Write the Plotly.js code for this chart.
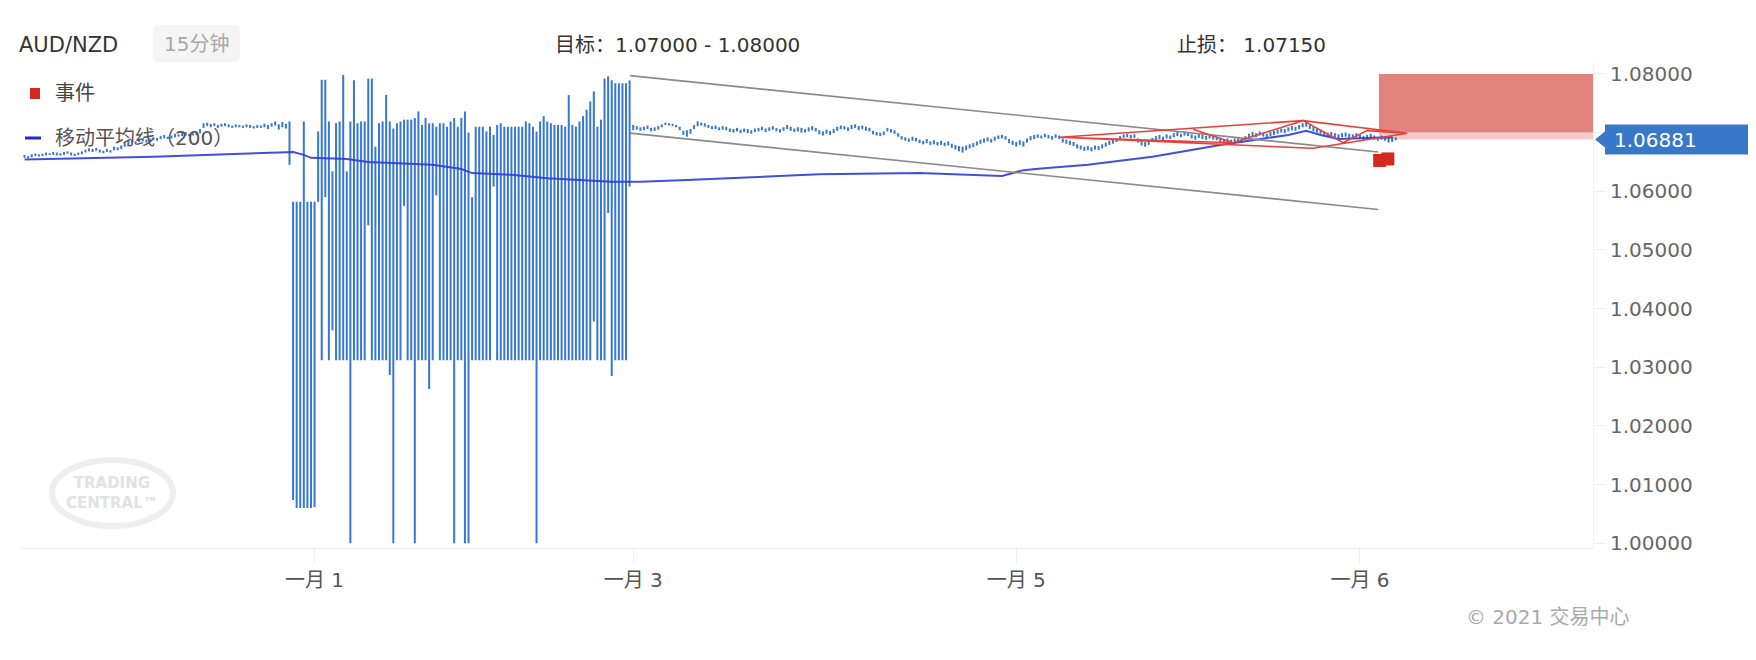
<!DOCTYPE html>
<html><head><meta charset="utf-8">
<script src="https://cdn.plot.ly/plotly-3.0.1.min.js"></script>
<style>html,body{margin:0;padding:0;background:#fff;}#chart{width:1756px;height:660px;}</style>
</head><body><div id="chart"></div>
<script>
// ---- 15-minute bars (high / low), bar index starts at 1 ----
const preHigh = [
1.0662,1.0660,1.0663,1.0664,1.0663,1.0664,1.0666,1.0665,1.0667,1.0666,
1.0665,1.0667,1.0668,1.0666,1.0664,1.0666,1.0668,1.0671,1.0673,1.0672,
1.0674,1.0671,1.0669,1.0672,1.0670,1.0676,1.0675,1.0678,1.0682,1.0686,
1.0688,1.0685,1.0689,1.0691,1.0688,1.0690,1.0692,1.0691,1.0694,1.0696,
1.0693,1.0695,1.0698,1.0697,1.0699,1.0701,1.0698,1.0700,1.0702,1.0706,
1.0716,1.0717,1.0715,1.0716,1.0713,1.0715,1.0716,1.0714,1.0712,1.0714,
1.0713,1.0712,1.0714,1.0713,1.0711,1.0713,1.0712,1.0715,1.0713,1.0716,
1.0719,1.0714,1.0718,1.0715];
const preLow = [
1.0657,1.0656,1.0658,1.0660,1.0659,1.0660,1.0661,1.0662,1.0662,1.0661,
1.0661,1.0662,1.0664,1.0661,1.0660,1.0662,1.0663,1.0666,1.0668,1.0667,
1.0669,1.0666,1.0665,1.0667,1.0666,1.0670,1.0670,1.0672,1.0676,1.0679,
1.0683,1.0680,1.0684,1.0685,1.0683,1.0685,1.0687,1.0686,1.0689,1.0690,
1.0689,1.0690,1.0692,1.0693,1.0694,1.0695,1.0694,1.0695,1.0696,1.0699,
1.0708,1.0711,1.0709,1.0711,1.0708,1.0710,1.0711,1.0709,1.0708,1.0709,
1.0709,1.0708,1.0709,1.0708,1.0707,1.0708,1.0708,1.0709,1.0706,1.0710,
1.0712,1.0705,1.0709,1.0707];
const spikeHigh = [
1.0719,1.0582,1.0582,1.0582,1.0719,1.0582,1.0582,1.0582,1.0702,1.0790,
1.0790,1.0719,1.0634,1.0716,1.0719,1.0798,1.0634,1.0719,1.0789,1.0716,
1.0719,1.0719,1.0792,1.0792,1.0676,1.0716,1.0719,1.0764,1.0719,1.0707,
1.0716,1.0719,1.0722,1.0722,1.0722,1.0725,1.0736,1.0713,1.0725,1.0716,
1.0716,1.0710,1.0716,1.0716,1.0710,1.0719,1.0725,1.0710,1.0725,1.0736,
1.0700,1.0590,1.0710,1.0710,1.0710,1.0702,1.0710,1.0696,1.0713,1.0716,
1.0710,1.0710,1.0710,1.0710,1.0710,1.0710,1.0719,1.0716,1.0710,1.0702,
1.0719,1.0728,1.0719,1.0716,1.0713,1.0713,1.0713,1.0710,1.0764,1.0713,
1.0710,1.0719,1.0728,1.0739,1.0753,1.0770,1.0710,1.0722,1.0792,1.0796,
1.0789,1.0784,1.0784,1.0784,1.0784,1.0789];
const spikeLow = [
1.0645,1.0074,1.0060,1.0060,1.0060,1.0060,1.0060,1.0062,1.0582,1.0312,
1.0590,1.0312,1.0363,1.0312,1.0312,1.0312,1.0312,1.0000,1.0312,1.0312,
1.0312,1.0312,1.0542,1.0312,1.0312,1.0312,1.0312,1.0312,1.0287,1.0000,
1.0312,1.0312,1.0575,1.0312,1.0312,1.0000,1.0312,1.0312,1.0312,1.0263,
1.0312,1.0593,1.0312,1.0312,1.0312,1.0312,1.0000,1.0312,1.0312,1.0000,
1.0000,1.0312,1.0312,1.0312,1.0312,1.0312,1.0312,1.0608,1.0312,1.0312,
1.0312,1.0312,1.0312,1.0312,1.0312,1.0312,1.0312,1.0312,1.0312,1.0000,
1.0312,1.0312,1.0312,1.0312,1.0312,1.0312,1.0312,1.0312,1.0312,1.0312,
1.0312,1.0312,1.0312,1.0312,1.0312,1.0378,1.0312,1.0312,1.0312,1.0563,
1.0285,1.0312,1.0312,1.0312,1.0312,1.0608];
const postHigh = [
1.0713,1.0711,1.0709,1.0710,1.0712,1.0708,1.0709,1.0711,1.0714,1.0717,
1.0716,1.0715,1.0713,1.0710,1.0703,1.0704,1.0706,1.0713,1.0719,1.0717,
1.0716,1.0713,1.0711,1.0712,1.0709,1.0711,1.0710,1.0707,1.0706,1.0708,
1.0705,1.0707,1.0706,1.0704,1.0707,1.0708,1.0710,1.0707,1.0709,1.0711,
1.0708,1.0706,1.0709,1.0713,1.0710,1.0707,1.0709,1.0708,1.0706,1.0709,
1.0711,1.0708,1.0704,1.0702,1.0705,1.0703,1.0706,1.0710,1.0712,1.0711,
1.0709,1.0713,1.0714,1.0711,1.0712,1.0710,1.0708,1.0703,1.0701,1.0700,
1.0702,1.0708,1.0706,1.0704,1.0699,1.0694,1.0692,1.0690,1.0693,1.0691,
1.0688,1.0686,1.0689,1.0685,1.0687,1.0684,1.0686,1.0683,1.0685,1.0681,
1.0679,1.0677,1.0676,1.0678,1.0680,1.0682,1.0685,1.0688,1.0690,1.0692,
1.0689,1.0693,1.0695,1.0696,1.0694,1.0689,1.0686,1.0684,1.0687,1.0685,
1.0690,1.0694,1.0696,1.0697,1.0695,1.0698,1.0696,1.0694,1.0697,1.0695,
1.0690,1.0688,1.0686,1.0684,1.0680,1.0678,1.0676,1.0677,1.0675,1.0678,
1.0677,1.0680,1.0683,1.0686,1.0688,1.0690,1.0694,1.0697,1.0698,1.0696,
1.0697,1.0690,1.0686,1.0684,1.0687,1.0691,1.0694,1.0696,1.0693,1.0697,
1.0695,1.0699,1.0701,1.0698,1.0702,1.0700,1.0697,1.0695,1.0698,1.0696,
1.0694,1.0697,1.0695,1.0693,1.0691,1.0689,1.0690,1.0688,1.0690,1.0692,
1.0689,1.0694,1.0698,1.0701,1.0699,1.0702,1.0700,1.0698,1.0701,1.0703,
1.0705,1.0707,1.0706,1.0709,1.0711,1.0710,1.0713,1.0716,1.0718,1.0714,
1.0710,1.0708,1.0705,1.0702,1.0700,1.0701,1.0699,1.0697,1.0699,1.0700,
1.0698,1.0697,1.0699,1.0696,1.0694,1.0696,1.0698,1.0695,1.0693,1.0695,
1.0694,1.0691,1.0693,1.0692];
const postLow = [
1.0704,1.0705,1.0703,1.0704,1.0706,1.0702,1.0703,1.0705,1.0709,1.0713,
1.0712,1.0711,1.0709,1.0704,1.0696,1.0693,1.0698,1.0706,1.0711,1.0712,
1.0710,1.0708,1.0706,1.0706,1.0704,1.0705,1.0704,1.0701,1.0700,1.0702,
1.0699,1.0701,1.0699,1.0698,1.0701,1.0702,1.0704,1.0701,1.0703,1.0705,
1.0702,1.0700,1.0703,1.0706,1.0703,1.0701,1.0702,1.0700,1.0700,1.0702,
1.0704,1.0702,1.0697,1.0695,1.0698,1.0696,1.0699,1.0703,1.0706,1.0705,
1.0703,1.0706,1.0708,1.0704,1.0706,1.0703,1.0702,1.0697,1.0695,1.0694,
1.0696,1.0702,1.0700,1.0698,1.0693,1.0688,1.0686,1.0684,1.0686,1.0685,
1.0682,1.0680,1.0682,1.0679,1.0680,1.0678,1.0679,1.0677,1.0678,1.0674,
1.0671,1.0668,1.0666,1.0670,1.0673,1.0675,1.0678,1.0681,1.0683,1.0685,
1.0683,1.0686,1.0689,1.0690,1.0688,1.0682,1.0679,1.0676,1.0679,1.0676,
1.0683,1.0687,1.0689,1.0691,1.0690,1.0692,1.0690,1.0688,1.0691,1.0689,
1.0683,1.0681,1.0679,1.0677,1.0673,1.0671,1.0669,1.0670,1.0668,1.0671,
1.0670,1.0673,1.0676,1.0679,1.0681,1.0684,1.0688,1.0691,1.0692,1.0690,
1.0691,1.0683,1.0678,1.0676,1.0679,1.0684,1.0687,1.0689,1.0687,1.0690,
1.0689,1.0692,1.0694,1.0692,1.0695,1.0694,1.0690,1.0688,1.0691,1.0689,
1.0688,1.0690,1.0688,1.0687,1.0684,1.0682,1.0683,1.0681,1.0683,1.0685,
1.0683,1.0687,1.0691,1.0694,1.0692,1.0695,1.0693,1.0692,1.0694,1.0696,
1.0698,1.0700,1.0699,1.0702,1.0704,1.0703,1.0706,1.0709,1.0710,1.0706,
1.0702,1.0700,1.0698,1.0695,1.0693,1.0694,1.0692,1.0690,1.0692,1.0693,
1.0691,1.0690,1.0692,1.0689,1.0687,1.0689,1.0691,1.0688,1.0686,1.0688,
1.0686,1.0683,1.0684,1.0687];

// moving average (200) readings
const maIdx = [1,37,72,76,79,81,91,97,115,123,126,137,147,165,173,186,223,251,274,280,285,298,316,326,335,344,354,359,363,368,383];
const maVal = [1.0654,1.0659,1.0666,1.0667,1.0662,1.0657,1.0655,1.0650,1.0645,1.0638,1.0631,1.0628,1.0622,1.0616,1.0616,1.0619,1.0629,1.0631,1.0626,1.0636,1.0639,1.0645,1.0659,1.0670,1.0679,1.0687,1.0696,1.0703,1.0696,1.0689,1.0692];

// descending channel
const channelX = [170.1, 379.1];
const channelUpper = [1.0797, 1.0667];
const channelLower = [1.0699, 1.0569];

// red pattern lines
const patternX = [290.2,358.1,387.2,360.9,290.2,338.5,358.1,369.3,376.0,387.2,null,327.4,338.5];
const patternY = [1.0692,1.07203,1.06988,1.06732,1.0692,1.06828,1.07203,1.06828,1.07033,1.06988,null,1.07056,1.06828];

// events
const eventX = [379.5, 381.8];
const eventY = [1.06525, 1.06551];

const targetLow = 1.07, targetHigh = 1.08, stopLoss = 1.0715, lastPrice = 1.06881;
const targetStartX = 379.3;

const tickIdx = [82, 171, 278, 374];
const tickText = ['一月 1', '一月 3', '一月 5', '一月 6'];
const yTicks = [1.00, 1.01, 1.02, 1.03, 1.04, 1.05, 1.06, 1.07, 1.08];

// ---- build ----
const highs = preHigh.concat(spikeHigh, postHigh);
const lows = preLow.concat(spikeLow, postLow);
const barX = [], barY = [];
highs.forEach((h, k) => { const i = k + 1; barX.push(i, i, null); barY.push(lows[k], h, null); });

const XR = [0, 439.1], YR = [0.9992, 1.08203];
const L = 21, R = 1593, T = 62, B = 548;
const xp = px => (px - L) / (R - L);
const yp = py => (B - py) / (B - T);
const pY = (lastPrice - YR[0]) / (YR[1] - YR[0]);
const FONT = 'DejaVu Sans, Noto Sans CJK SC, sans-serif';

const traces = [
  {type:'scatter', mode:'lines', x: barX, y: barY, line:{color:'#3677d2', width:2}, connectgaps:false, hoverinfo:'skip'},
  {type:'scatter', mode:'lines', x: maIdx, y: maVal, line:{color:'rgba(45,60,215,0.9)', width:2}, hoverinfo:'skip'},
  {type:'scatter', mode:'lines', x: channelX, y: channelUpper, line:{color:'#8a8a8a', width:1.6}, hoverinfo:'skip'},
  {type:'scatter', mode:'lines', x: channelX, y: channelLower, line:{color:'#8a8a8a', width:1.6}, hoverinfo:'skip'},
  {type:'scatter', mode:'lines', x: patternX, y: patternY, line:{color:'#e8413b', width:1.6}, connectgaps:false, hoverinfo:'skip'},
  {type:'scatter', mode:'markers', x: eventX, y: eventY, marker:{symbol:'square', size:13, color:'#d42a1e'}, hoverinfo:'skip'}
];

const bh = 15 / (B - T), ah = 8 / (B - T);
const labelPath = `M ${xp(1595)},${pY} L ${xp(1605)},${pY + ah} L ${xp(1605)},${pY + bh} L ${xp(1748)},${pY + bh} L ${xp(1748)},${pY - bh} L ${xp(1605)},${pY - bh} L ${xp(1605)},${pY - ah} Z`;

// rounded box behind "15分钟"
const bx0 = xp(153), bx1 = xp(240), by0 = yp(62), by1 = yp(25);
const rx = 5 / (R - L), ry = 5 / (B - T);
const boxPath = `M ${bx0 + rx},${by0} L ${bx1 - rx},${by0} Q ${bx1},${by0} ${bx1},${by0 + ry} L ${bx1},${by1 - ry} Q ${bx1},${by1} ${bx1 - rx},${by1} L ${bx0 + rx},${by1} Q ${bx0},${by1} ${bx0},${by1 - ry} L ${bx0},${by0 + ry} Q ${bx0},${by0} ${bx0 + rx},${by0} Z`;

const layout = {
  width: 1756, height: 660,
  margin: {l: L, r: 1756 - R, t: T, b: 660 - B, pad: 0},
  paper_bgcolor: '#ffffff', plot_bgcolor: '#ffffff',
  showlegend: false, hovermode: false,
  font: {family: FONT, size: 20, color: '#444'},
  xaxis: {range: XR, tickmode:'array', tickvals: tickIdx, ticktext: tickText, showgrid:false, zeroline:false,
          showline:true, linecolor:'#ececec', linewidth:1, ticks:'outside', ticklen:14, tickcolor:'#eeeeee',
          tickfont:{size:20, color:'#555', family: FONT}},
  yaxis: {side:'right', range: YR, tickmode:'array', tickvals: yTicks, tickformat:'.5f', showgrid:false, zeroline:false,
          showline:true, linecolor:'#f0f0f0', linewidth:1, ticks:'outside', ticklen:12, tickcolor:'#eeeeee',
          tickfont:{size:20, color:'#666', family: FONT}},
  shapes: [
    {type:'rect', xref:'x', yref:'y', x0: targetStartX, x1: XR[1], y0: lastPrice, y1: targetLow, fillcolor:'#f5cac7', line:{width:0}, layer:'below'},
    {type:'rect', xref:'x', yref:'y', x0: targetStartX, x1: XR[1], y0: targetLow, y1: targetHigh, fillcolor:'#e2837e', line:{width:0}, layer:'below'},
    {type:'path', xref:'paper', yref:'paper', path: boxPath, fillcolor:'#f5f5f5', line:{width:0}, layer:'below'},
    {type:'rect', xref:'paper', yref:'paper', x0: xp(30), x1: xp(40), y0: yp(99), y1: yp(88), fillcolor:'#d42a1e', line:{width:0}},
    {type:'line', xref:'paper', yref:'paper', x0: xp(25), x1: xp(41), y0: yp(138), y1: yp(138), line:{color:'#1b2ec9', width:3}},
    {type:'circle', xref:'paper', yref:'paper', x0: xp(52), x1: xp(173), y0: yp(526), y1: yp(460), line:{color:'#eeeeee', width:6}, layer:'below'},
    {type:'path', xref:'paper', yref:'paper', path: labelPath, fillcolor:'#3878c8', line:{width:0}, layer:'above'}
  ],
  annotations: [
    {xref:'paper', yref:'paper', x: xp(17), y: yp(45), xanchor:'left', yanchor:'middle', showarrow:false, text:'AUD/NZD', font:{size:21, color:'#333'}},
    {xref:'paper', yref:'paper', x: xp(196.5), y: yp(44), xanchor:'center', yanchor:'middle', showarrow:false, text:'15分钟', font:{size:20, color:'#a8a8a8'}},
    {xref:'paper', yref:'paper', x: xp(677), y: yp(45), xanchor:'center', yanchor:'middle', showarrow:false, text:'目标：' + targetLow.toFixed(5) + ' - ' + targetHigh.toFixed(5), font:{size:20, color:'#333'}},
    {xref:'paper', yref:'paper', x: xp(1251), y: yp(45), xanchor:'center', yanchor:'middle', showarrow:false, text:'止损： ' + stopLoss.toFixed(5), font:{size:20, color:'#333'}},
    {xref:'paper', yref:'paper', x: xp(53), y: yp(93), xanchor:'left', yanchor:'middle', showarrow:false, text:'事件', font:{size:20, color:'#444'}},
    {xref:'paper', yref:'paper', x: xp(53), y: yp(138), xanchor:'left', yanchor:'middle', showarrow:false, text:'移动平均线（200）', font:{size:20, color:'#555'}},
    {xref:'paper', yref:'paper', x: xp(1548), y: yp(617), xanchor:'center', yanchor:'middle', showarrow:false, text:'© 2021 交易中心', font:{size:20, color:'#aaaaaa'}},
    {xref:'paper', yref:'paper', x: xp(1612), y: pY, xanchor:'left', yanchor:'middle', showarrow:false, text: lastPrice.toFixed(5), font:{size:20, color:'#ffffff'}},
    {xref:'paper', yref:'paper', x: xp(112), y: yp(493), xanchor:'center', yanchor:'middle', showarrow:false, text:'<b>TRADING<br>CENTRAL™</b>', font:{size:15, color:'#e2e2e2'}}
  ]
};

Plotly.newPlot('chart', traces, layout, {staticPlot:true, displayModeBar:false});
</script></body></html>
